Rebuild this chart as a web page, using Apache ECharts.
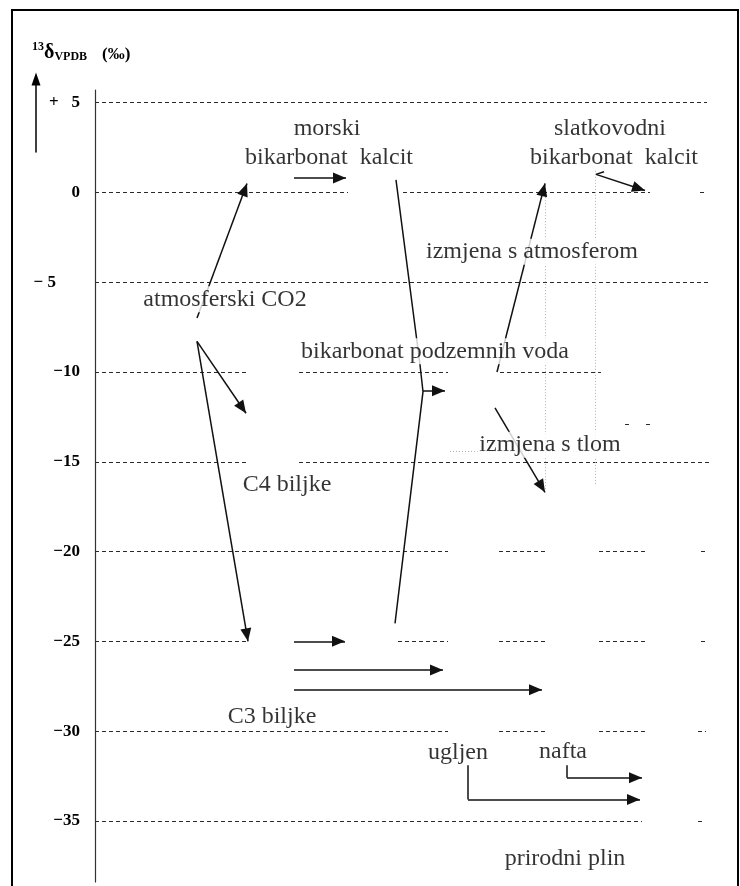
<!DOCTYPE html>
<html>
<head>
<meta charset="utf-8">
<script src="https://cdn.jsdelivr.net/npm/echarts@6/dist/echarts.min.js"></script>
<style>
  html, body { margin: 0; padding: 0; background: #fff; }
  #chart { width: 740px; height: 886px; }
</style>
</head>
<body>
<div id="chart"></div>
<script>
// y axis: delta 13C (VPDB, permil); x is only a horizontal layout scale
var yTicks = [5, 0, -5, -10, -15, -20, -25, -30, -35];
var tickLabels = ['+   5', '0', '{s|\u2212 5}', '\u221210', '\u221215', '\u221220', '\u221225', '\u221230', '\u221235'];

// dashed reference lines: [level, from x, to x]
var gridSegments = [
    [5, -7, 612],
    [0, -7, 253], [0, 308, 555], [0, 605, 611],
    [-5, -7, 614],
    [-10, -7, 151], [-10, 204, 353], [-10, 405, 506],
    [-15, -7, 151], [-15, 204, 614],
    [-20, -7, 353], [-20, 404, 451], [-20, 504, 553], [-20, 606, 611],
    [-25, -7, 153], [-25, 303, 353], [-25, 404, 451], [-25, 504, 553], [-25, 606, 611],
    [-30, -7, 353], [-30, 404, 451], [-30, 504, 553], [-30, 603, 611],
    [-35, -7, 547], [-35, 603, 610],
    [-12.9, 530, 535], [-12.9, 551, 557]
];

// faint dotted guides: [x, from level, to level]
var guideVertical = [[450, 0.4, -16.6], [500, 1.2, -16.3]];
var guideHorizontal = [[-14.4, 355, 505]];

// arrows (last point gets the arrow head)
var arrows = [
    [[102, -7.0], [152, 0.5]],
    [[102, -8.3], [151, -12.3]],
    [[102, -8.3], [153, -25.0]],
    [[199, 0.8], [251, 0.8]],
    [[328, -11.05], [350, -11.05]],
    [[402, -10.0], [450, 0.5]],
    [[400, -12.0], [450, -16.7]],
    [[501, 1.0], [550, 0.1]],
    [[199, -25.0], [250, -25.0]],
    [[199, -26.6], [348, -26.6]],
    [[199, -27.7], [447, -27.7]],
    [[373, -33.8], [545, -33.8]],
    [[472, -32.6], [547, -32.6]]
];

// plain connecting lines
var plainLines = [
    [[300, -24.0], [328, -11.1], [325, -9.6], [301, 0.7]],
    [[373, -31.9], [373, -33.8]],
    [[472, -31.9], [472, -32.6]],
    [[509, 1.15], [501, 1.0]]
];

// text: [text, x, level, mask lines behind]
var labels = [
    ['morski', 232, 3.55, false],
    ['bikarbonat  kalcit', 234, 1.95, false],
    ['slatkovodni', 515, 3.55, false],
    ['bikarbonat  kalcit', 519, 1.95, false],
    ['izmjena s atmosferom', 437, -3.3, true],
    ['atmosferski CO2', 130, -5.95, true],
    ['bikarbonat podzemnih voda', 340, -8.85, true],
    ['C4 biljke', 192, -16.3, false],
    ['izmjena s tlom', 455, -14.05, true],
    ['C3 biljke', 177, -29.2, false],
    ['ugljen', 363, -31.2, false],
    ['nafta', 468, -31.15, false],
    ['prirodni plin', 470, -37.1, false]
];

var serif = '"Liberation Serif", "DejaVu Serif", serif';
var ink = '#000';
// filled head (11 wide, 13 long) in a square box whose centre is the tip
var headPath = 'path://M-13,-13M13,13M0,0L5.5,13L-5.5,13Z';

var chart = echarts.init(document.getElementById('chart'), null, { renderer: 'canvas' });

function segs(list, fn) {
    return list.map(function (s) { return { coords: fn(s) }; });
}

var option = {
    animation: false,
    backgroundColor: '#fff',
    title: {
        left: 27,
        top: 36,
        text: '{sup|13}{d|\u03b4}{sub|VPDB}{sp| }{p|(\u2030)}',
        textStyle: {
            rich: {
                sup: { fontFamily: serif, fontWeight: 'bold', fontSize: 12, color: ink, verticalAlign: 'top', lineHeight: 12 },
                d: { fontFamily: serif, fontWeight: 'bold', fontSize: 20, color: ink, verticalAlign: 'bottom', lineHeight: 22 },
                sub: { fontFamily: serif, fontWeight: 'bold', fontSize: 12, color: ink, verticalAlign: 'bottom', lineHeight: 14 },
                sp: { fontSize: 14, width: 15, lineHeight: 14 },
                p: { fontFamily: serif, fontWeight: 'bold', fontSize: 17, color: ink, verticalAlign: 'bottom', lineHeight: 20 }
            }
        }
    },
    graphic: [{
        type: 'rect',
        shape: { x: 12, y: 10, width: 726, height: 900 },
        style: { fill: 'none', stroke: '#000', lineWidth: 2 },
        silent: true
    }],
    grid: [
        { left: 95, right: 0, top: 90, bottom: 4 },
        { left: 36, width: 1, top: 79, height: 73 }
    ],
    xAxis: [
        { type: 'value', min: 0, max: 645, show: false },
        { type: 'value', gridIndex: 1, show: false }
    ],
    yAxis: [
        {
            type: 'value',
            min: -38.4,
            max: 5.7,
            axisLine: { show: true, onZero: false, lineStyle: { color: '#333', width: 1.2 } },
            axisTick: { show: false },
            splitLine: { show: false },
            axisLabel: {
                customValues: yTicks,
                margin: 15,
                color: ink,
                fontFamily: serif,
                fontWeight: 'bold',
                fontSize: 17,
                formatter: function (v) { return tickLabels[yTicks.indexOf(v)]; },
                rich: {
                    s: { fontFamily: serif, fontWeight: 'bold', fontSize: 17, color: ink, padding: [0, 24, 0, 0] }
                }
            }
        },
        {
            type: 'value',
            gridIndex: 1,
            axisLine: {
                show: true, onZero: false,
                symbol: ['none', 'triangle'], symbolSize: [9, 13],
                lineStyle: { color: '#000', width: 1.5 }
            },
            axisTick: { show: false },
            axisLabel: { show: false },
            splitLine: { show: false }
        }
    ],
    series: [
        {
            type: 'lines', coordinateSystem: 'cartesian2d', silent: true, z: 1,
            lineStyle: { color: '#2a2a2a', width: 1.2, opacity: 1, type: [4, 3] },
            data: segs(gridSegments, function (s) { return [[s[1], s[0]], [s[2], s[0]]]; })
        },
        {
            type: 'lines', coordinateSystem: 'cartesian2d', silent: true, z: 1,
            lineStyle: { color: '#b0b0b0', width: 1, opacity: 1, type: [1, 2] },
            data: segs(guideVertical, function (s) { return [[s[0], s[1]], [s[0], s[2]]]; })
                .concat(segs(guideHorizontal, function (s) { return [[s[1], s[0]], [s[2], s[0]]]; }))
        },
        {
            type: 'lines', coordinateSystem: 'cartesian2d', silent: true, z: 2,
            polyline: true,
            lineStyle: { color: '#111', width: 1.5, opacity: 1 },
            data: segs(plainLines, function (s) { return s; })
        },
        {
            type: 'lines', coordinateSystem: 'cartesian2d', silent: true, z: 2,
            symbol: ['none', headPath], symbolSize: 26,
            lineStyle: { color: '#111', width: 1.5, opacity: 1 },
            data: segs(arrows, function (s) { return s; })
        },
        {
            type: 'scatter', silent: true, z: 5,
            symbolSize: 0,
            label: {
                show: true,
                position: 'inside',
                formatter: '{b}',
                color: ink,
                fontFamily: serif,
                fontSize: 24
            },
            data: labels.map(function (l) {
                var item = { name: l[0], value: [l[1], l[2]] };
                if (l[3]) item.label = { backgroundColor: '#fff', padding: [1, 2] };
                return item;
            })
        }
    ]
};

chart.setOption(option);
</script>
</body>
</html>
